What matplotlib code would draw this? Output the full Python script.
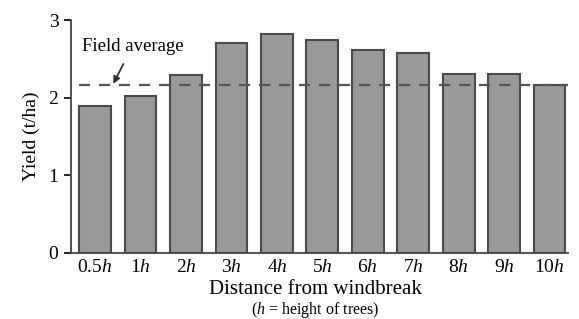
import numpy as np
import matplotlib.pyplot as plt

plt.rcParams['font.family'] = ['Liberation Serif', 'DejaVu Serif']
plt.rcParams['mathtext.fontset'] = 'custom'
plt.rcParams['mathtext.rm'] = 'Liberation Serif'
plt.rcParams['mathtext.it'] = 'Liberation Serif:italic'

distances = ['0.5', '1', '2', '3', '4', '5', '6', '7', '8', '9', '10']
yields = [1.89, 2.02, 2.29, 2.70, 2.82, 2.75, 2.61, 2.57, 2.30, 2.30, 2.16]
field_avg = 2.16

fig = plt.figure(figsize=(5.79, 3.19), dpi=100)
ax = fig.add_axes([0.1226, 0.207, 0.858, 0.730])

x = np.arange(len(yields))
ax.bar(x, yields, width=0.7, color='#999999', edgecolor='#4a4a4a', linewidth=1.5, zorder=2)
ax.plot([-0.35, 10.4], [field_avg, field_avg], color='#555555', lw=1.6,
        dashes=(5, 4), zorder=3)

ax.annotate('Field average', xy=(0.4, field_avg + 0.02), xytext=(0.82, 2.66),
            ha='center', va='center', fontsize=13.5,
            arrowprops=dict(arrowstyle='-|>', color='#333333', lw=1.3,
                            mutation_scale=10, shrinkA=5, shrinkB=0))

ax.set_xlim(-0.53, 10.4)
ax.set_ylim(0, 3)
ax.set_yticks([0, 1, 2, 3])
ax.set_xticks(x)
ax.set_xticklabels([d + '$h$' for d in distances], fontsize=14)
ax.tick_params(axis='x', length=0, pad=4)
ax.tick_params(axis='y', direction='out', length=5, width=1.2, labelsize=14, pad=4)
for s in ['top', 'right']:
    ax.spines[s].set_visible(False)
ax.spines['left'].set_linewidth(1.3)
ax.spines['bottom'].set_linewidth(1.3)
ax.spines['left'].set_color('#444444')
ax.spines['bottom'].set_color('#444444')

ax.set_ylabel('Yield (t/ha)', fontsize=14, labelpad=6)
fig.text(0.545, 0.092, 'Distance from windbreak', ha='center', va='center', fontsize=15)
fig.text(0.545, 0.028, '($h$ = height of trees)', ha='center', va='center', fontsize=11.5)

fig.savefig('out.png', dpi=100)
